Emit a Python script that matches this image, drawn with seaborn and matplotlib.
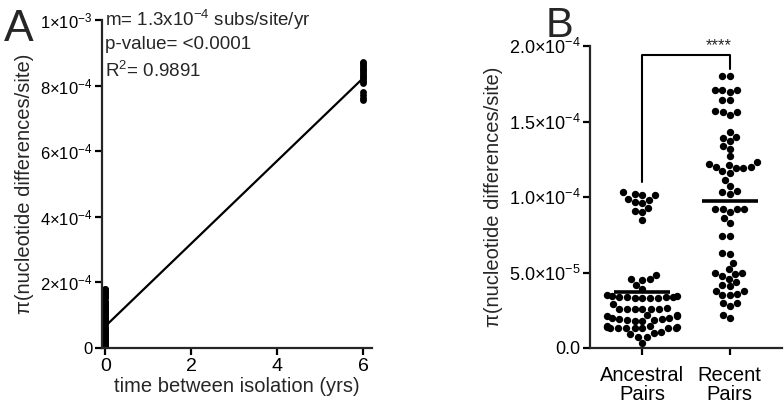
import numpy as np
import pandas as pd
import matplotlib
matplotlib.use("Agg")
import matplotlib.pyplot as plt
import seaborn as sns

sns.set_theme(style="ticks")
plt.rcParams['font.family'] = ['Liberation Sans', 'DejaVu Sans']
plt.rcParams['mathtext.fontset'] = 'custom'
plt.rcParams['mathtext.rm'] = 'Liberation Sans'
plt.rcParams['mathtext.it'] = 'Liberation Sans:italic'
plt.rcParams['mathtext.bf'] = 'Liberation Sans:bold'

# ---- data (units of 1e-5 nucleotide differences/site) ----
ancestral = [10.3, 10.15, 9.7, 9.9, 9.6, 9.8, 9.3, 10.1, 10.2, 9.0, 9.1, 8.5,
             4.85, 4.5, 4.55, 4.55, 4.15, 3.9,
             3.5, 3.45, 3.4, 3.35, 3.3, 3.3, 3.3, 3.3, 3.35, 3.4, 3.45,
             2.9, 2.65,
             2.6, 2.6, 2.6, 2.6, 2.6, 2.6,
             2.2, 2.1, 2.0, 1.9, 1.85, 1.8, 1.8, 1.85, 1.9, 2.0, 2.1, 2.2,
             1.45, 1.4, 1.35, 1.3, 1.3, 1.3, 1.3, 1.3, 1.35, 1.4, 1.45,
             1.05, 1.0, 0.9,
             0.73, 0.73,
             0.35]
recent = [18.0, 18.0,
          17.1, 17.1, 16.95, 17.1,
          16.4, 16.4,
          15.7, 15.6, 15.4, 15.6,
          14.3, 14.0, 13.9, 13.7, 13.4, 13.2,
          12.7,
          12.2, 12.0, 11.9, 11.9, 12.0, 12.1, 12.3,
          11.7, 11.6,
          11.1,
          10.7, 10.3, 10.2, 10.4,
          9.2, 9.2, 9.0, 9.2, 9.2,
          8.3, 8.6,
          7.45, 7.4,
          6.3, 6.2,
          5.6,
          5.2, 5.0, 4.8, 4.9, 5.0,
          4.6, 4.2, 4.1, 4.4,
          3.8, 3.5, 3.5, 3.6, 3.8,
          3.0, 2.8, 3.0,
          2.0, 2.2]
six_year = [87.2, 86.8, 86.3, 85.8, 85.2, 84.7, 84.1, 83.6, 83.0, 82.5, 81.9,
            81.4, 80.8, 78.0, 77.2, 76.3, 75.5]
groups = ["Ancestral\nPairs", "Recent\nPairs"]
a_yticks = [0, 2e-4, 4e-4, 6e-4, 8e-4, 1e-3]
a_yticklabels = ["0", r"2×10$^{-4}$", r"4×10$^{-4}$", r"6×10$^{-4}$", r"8×10$^{-4}$", r"1×10$^{-3}$"]
a_xticks = [0, 2, 4, 6]
b_yticks = [0, 5e-5, 1e-4, 1.5e-4, 2e-4]
b_yticklabels = ["0.0", r"5.0×10$^{-5}$", r"1.0×10$^{-4}$", r"1.5×10$^{-4}$", r"2.0×10$^{-4}$"]

scale = 1e-5
dfA = pd.DataFrame({
    "years": [0] * (len(ancestral) + len(recent)) + [6] * len(six_year),
    "pi": np.array(ancestral + recent + six_year) * scale,
})
dfB = pd.DataFrame({
    "group": [groups[0]] * len(ancestral) + [groups[1]] * len(recent),
    "pi": np.array(ancestral + recent) * scale,
})

W, H = 784, 412
fig = plt.figure(figsize=(W / 100, H / 100), dpi=100)
axA = fig.add_axes([102 / W, 64 / H, (372 - 102) / W, (348 - 20) / H])
axB = fig.add_axes([590 / W, 64 / H, (782 - 590) / W, (348 - 46) / H])

lw = 1.6
# ---- Panel A ----
sns.regplot(data=dfA, x="years", y="pi", ci=None, ax=axA, color="black",
            scatter_kws=dict(s=24, linewidths=0, alpha=1),
            line_kws=dict(lw=1.6, color="black"))
axA.set_xlim(-0.08, 6.2)
axA.set_ylim(0, 1e-3)
axA.set_yticks(a_yticks)
axA.set_yticklabels(a_yticklabels, fontsize=12)
axA.set_xticks(a_xticks)
axA.set_xticklabels([str(t) for t in a_xticks], fontsize=14)
axA.set_xlabel("time between isolation (yrs)", fontsize=14.5, labelpad=2)
axA.set_ylabel("π(nucleotide differences/site)", fontsize=14.5, labelpad=4)
for sp in ["top", "right"]:
    axA.spines[sp].set_visible(False)
for sp in ["left", "bottom"]:
    axA.spines[sp].set_linewidth(lw)
axA.tick_params(width=lw, length=5, colors="black", pad=2)

axA.text(0.012, 1.0, r"m= 1.3x10$^{-4}$ subs/site/yr", transform=axA.transAxes,
         fontsize=13.5, va="center", ha="left")
axA.text(0.012, 0.925, "p-value= <0.0001", transform=axA.transAxes,
         fontsize=13.5, va="center", ha="left")
axA.text(0.012, 0.845, r"R$^{2}$= 0.9891", transform=axA.transAxes,
         fontsize=13.5, va="center", ha="left")

# ---- Panel B ----
sns.swarmplot(data=dfB, x="group", y="pi", color="black", size=5.3, ax=axB,
              order=groups)
means = dfB.groupby("group", sort=False)["pi"].mean().reindex(groups).values
for i, m in enumerate(means):
    axB.hlines(m, i - 0.32, i + 0.32, color="black", lw=2.6, zorder=5)
axB.set_xlim(-0.6, 1.6)
axB.set_ylim(0, 2e-4)
axB.set_yticks(b_yticks)
axB.set_yticklabels(b_yticklabels, fontsize=13)
axB.set_xticks([0, 1])
axB.set_xticklabels(groups, fontsize=14.5, linespacing=1.0)
axB.set_xlabel("")
axB.set_ylabel("π(nucleotide differences/site)", fontsize=14.5, labelpad=4)
for sp in ["top", "right"]:
    axB.spines[sp].set_visible(False)
for sp in ["left", "bottom"]:
    axB.spines[sp].set_linewidth(lw)
axB.tick_params(width=lw, length=5, colors="black", pad=2)
axB.tick_params(axis="x", pad=8)

# significance bracket
top = 19.4 * scale
left_bottom = max(ancestral) * scale + 0.7e-5
right_bottom = max(recent) * scale + 0.5e-5
axB.plot([0, 0, 1, 1], [left_bottom, top, top, right_bottom], color="black",
         lw=1.5, clip_on=False)
axB.text(1.02, top + 0.1e-5, "****", ha="right", va="bottom", fontsize=12,
         clip_on=False)

fig.text(4 / W, 1 - 41 / H, "A", fontsize=32, va="baseline", ha="left")
fig.text(546 / W, 1 - 37 / H, "B", fontsize=30, va="baseline", ha="left")

fig.savefig("out.png", dpi=100)
